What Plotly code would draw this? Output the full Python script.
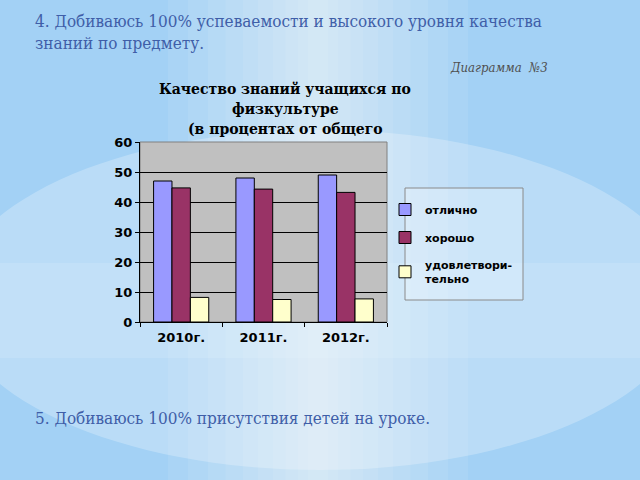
import plotly.graph_objects as go

years = ["2010г.", "2011г.", "2012г."]
series_names = ["отлично", "хорошо", "удовлетвори-<br>тельно"]
otlichno = [47.0, 48.0, 49.0]
horosho = [44.7, 44.3, 43.2]
udovl = [8.2, 7.5, 7.7]
y_ticks = [0, 10, 20, 30, 40, 50, 60]
title_lines = ["Качество знаний учащихся по", "физкультуре", "(в процентах от общего"]

W, H = 640, 480


def px(x):
    return x / W


def py(y):
    return 1 - y / H


colors = ["#9999ff", "#993366", "#ffffcc"]
values = [otlichno, horosho, udovl]

fig = go.Figure()
for i, (name, vals, col) in enumerate(zip(series_names, values, colors)):
    fig.add_trace(go.Bar(
        x=years, y=vals, name=name,
        marker=dict(color=col, line=dict(color="#000000", width=1)),
        legendgroup=f"g{i}",
    ))

shapes = []
# background bands / glow
shapes.append(dict(type="rect", xref="paper", yref="paper", x0=0, x1=1,
                   y0=py(358), y1=py(263), fillcolor="white", opacity=0.12,
                   line=dict(width=0), layer="below"))
shapes.append(dict(type="circle", xref="paper", yref="paper", x0=px(-48), x1=px(688),
                   y0=py(470), y1=py(130), fillcolor="white", opacity=0.25,
                   line=dict(width=0), layer="below"))
for wdt in [300, 260, 220, 185, 150, 120, 90, 65, 40, 20]:
    shapes.append(dict(type="rect", xref="paper", yref="paper",
                       x0=px(318 - wdt / 2), x1=px(318 + wdt / 2), y0=0, y1=1,
                       fillcolor="white", opacity=0.08, line=dict(width=0), layer="below"))
# plot area background (drawn after the glow so it stays solid grey)
shapes.append(dict(type="rect", xref="x domain", yref="y domain", x0=0, x1=1, y0=0, y1=1,
                   fillcolor="#c0c0c0", line=dict(color="#808080", width=1), layer="below"))
# legend box
shapes.append(dict(type="rect", xref="paper", yref="paper", x0=px(405), x1=px(523),
                   y0=py(300), y1=py(188), fillcolor="rgba(255,255,255,0.25)",
                   line=dict(color="#8a8a8a", width=1), layer="below"))

serif_c = "DejaVu Serif Condensed, DejaVu Serif, serif"
annotations = [
    dict(text="4. Добиваюсь 100% успеваемости и высокого уровня качества<br>знаний по предмету.",
         xref="paper", yref="paper",
         x=px(33), y=py(9), xanchor="left", yanchor="top", align="left",
         font=dict(family=serif_c, size=17, color="#3f5ea8"), showarrow=False),
    dict(text="<i>Диаграмма  №3</i>", xref="paper", yref="paper",
         x=px(448), y=py(67), xanchor="left", yanchor="middle",
         font=dict(family=serif_c, size=13, color="#505050"),
         showarrow=False),
    dict(text="5. Добиваюсь 100% присутствия детей на уроке.",
         xref="paper", yref="paper",
         x=px(33), y=py(418), xanchor="left", yanchor="middle", align="left",
         font=dict(family=serif_c, size=17, color="#3f5ea8"), showarrow=False),
]
for k, line in enumerate(title_lines):
    annotations.append(dict(text=f"<b>{line}</b>", xref="paper", yref="paper",
                            x=px(285), y=py(89 + 20 * k), xanchor="center", yanchor="middle",
                            font=dict(family="DejaVu Serif, serif", size=14, color="#000000"),
                            showarrow=False))

fig.update_layout(
    width=W, height=H,
    margin=dict(l=0, r=0, t=0, b=0, autoexpand=False),
    paper_bgcolor="#a3d1f5",
    plot_bgcolor="rgba(0,0,0,0)",
    barmode="group", bargap=0.33, bargroupgap=0,
    shapes=shapes, annotations=annotations,
    showlegend=True,
    legend=dict(x=px(385), y=py(195), xanchor="left", yanchor="top",
                bgcolor="rgba(0,0,0,0)", borderwidth=0,
                font=dict(family="DejaVu Sans", size=11, color="#000000", weight="bold"),
                tracegroupgap=9, itemwidth=30),
    xaxis=dict(domain=[px(140), px(387)], showgrid=False, automargin=False,
               showline=True, linecolor="#000000", linewidth=1,
               ticks="outside", tickson="boundaries", ticklen=4, tickcolor="#000000",
               ticklabelstandoff=3,
               tickfont=dict(family="DejaVu Sans", size=13, color="#000000", weight="bold"),
               mirror=False),
    yaxis=dict(domain=[py(322), py(142)], range=[0, 60], tickvals=y_ticks, automargin=False,
               showgrid=True, gridcolor="#000000", gridwidth=1,
               showline=True, linecolor="#000000", linewidth=1,
               ticks="outside", ticklen=4, tickcolor="#000000",
               tickfont=dict(family="DejaVu Sans", size=13, color="#000000", weight="bold"),
               zeroline=False),
)
fig.write_html("out.html", config={"displayModeBar": False},
               post_script="document.body.style.margin='0';document.body.style.overflow='hidden';")
